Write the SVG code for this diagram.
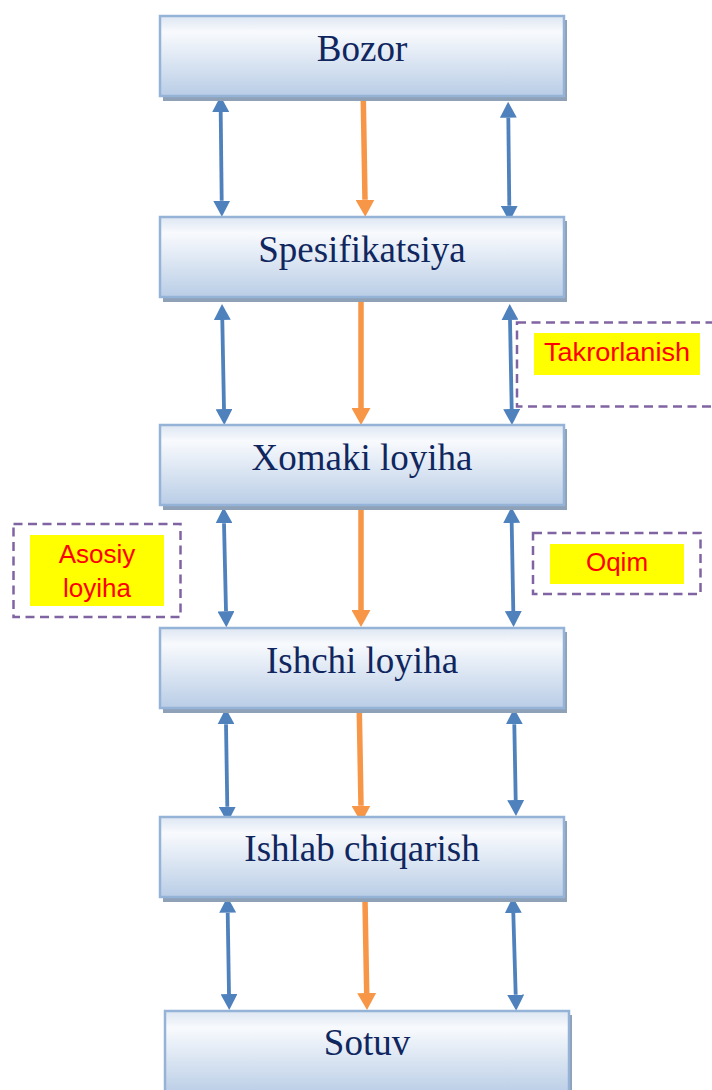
<svg xmlns="http://www.w3.org/2000/svg" width="712" height="1090" viewBox="0 0 712 1090">
<defs>
<linearGradient id="bg" x1="0" y1="0" x2="0" y2="1">
<stop offset="0" stop-color="#dde6f2"/>
<stop offset="0.2" stop-color="#f8fafd"/>
<stop offset="1" stop-color="#b9cde6"/>
</linearGradient>
<marker id="hb" markerUnits="userSpaceOnUse" markerWidth="17" markerHeight="17" refX="0" refY="8.5" orient="auto-start-reverse" viewBox="0 0 17 17">
<path d="M0,0 L16,8.5 L0,17 Z" fill="#4f81bd"/>
</marker>
<marker id="ho" markerUnits="userSpaceOnUse" markerWidth="19" markerHeight="19" refX="0" refY="9.5" orient="auto" viewBox="0 0 19 19">
<path d="M0,0 L17,9.5 L0,19 Z" fill="#f79646"/>
</marker>
</defs>
<style>
.sh{fill:#8fa1b7}
.bx{fill:url(#bg);stroke:#95b3d7;stroke-width:2.5}
.t{font-family:"Liberation Serif","Times New Roman",serif;font-size:37px;fill:#10265e;text-anchor:middle}
.b{stroke:#4f81bd;stroke-width:3.8;fill:none;marker-start:url(#hb);marker-end:url(#hb)}
.o{stroke:#f79646;stroke-width:5.5;fill:none;marker-end:url(#ho)}
.d{fill:#ffffff;stroke:#8064a2;stroke-width:2.5;stroke-dasharray:9 5.5}
.y{fill:#ffff00}
.r{font-family:"Liberation Sans",Arial,sans-serif;font-size:26px;fill:#ff0000;text-anchor:middle}
</style>
<rect width="712" height="1090" fill="#ffffff"/>

<g id="connectors">
<path class="b" d="M220.7,112 L221.7,200.7"/>
<path class="o" d="M363.3,100 L365,199.7"/>
<path class="b" d="M508.3,117.7 L509.3,205.7"/>
<path class="b" d="M222.3,320 L224,409"/>
<path class="o" d="M361,300 L361,408"/>
<path class="b" d="M510,320 L511.7,409"/>
<path class="b" d="M224,523.3 L226,611.3"/>
<path class="o" d="M361,508 L361,610"/>
<path class="b" d="M511.7,523 L513.3,611"/>
<path class="b" d="M226,724.3 L227.3,806.7"/>
<path class="o" d="M359.3,711 L361,805.7"/>
<path class="b" d="M514.3,724.3 L515.7,800"/>
<path class="b" d="M227.7,912.7 L229,994"/>
<path class="o" d="M365,900 L366.7,993"/>
<path class="b" d="M513.3,913 L515.7,994.7"/>
</g>

<g id="bozor">
<rect class="sh" x="163" y="20" width="404" height="81"/>
<rect class="bx" x="160" y="16" width="404" height="80"/>
<text class="t" x="362" y="61">Bozor</text>
</g>
<g id="spesifikatsiya">
<rect class="sh" x="163" y="221" width="404" height="81"/>
<rect class="bx" x="160" y="217" width="404" height="80"/>
<text class="t" x="362" y="262">Spesifikatsiya</text>
</g>
<g id="xomaki-loyiha">
<rect class="sh" x="163" y="429" width="404" height="81"/>
<rect class="bx" x="160" y="425" width="404" height="80"/>
<text class="t" x="362" y="470">Xomaki loyiha</text>
</g>
<g id="ishchi-loyiha">
<rect class="sh" x="163" y="632" width="404" height="81"/>
<rect class="bx" x="160" y="628" width="404" height="80"/>
<text class="t" x="362" y="672.5">Ishchi loyiha</text>
</g>
<g id="ishlab-chiqarish">
<rect class="sh" x="163" y="821" width="404" height="81"/>
<rect class="bx" x="160" y="817" width="404" height="80"/>
<text class="t" x="362" y="860.5">Ishlab chiqarish</text>
</g>
<g id="sotuv">
<rect class="sh" x="168" y="1015" width="404" height="81"/>
<rect class="bx" x="165" y="1011" width="404" height="84"/>
<text class="t" x="367" y="1055">Sotuv</text>
</g>

<g id="takrorlanish">
<rect class="d" x="517" y="322.5" width="200" height="84"/>
<rect class="y" x="534" y="333" width="166" height="42"/>
<text class="r" x="617" y="361" textLength="146" lengthAdjust="spacingAndGlyphs">Takrorlanish</text>
</g>
<g id="oqim">
<rect class="d" x="533" y="533" width="167.5" height="61"/>
<rect class="y" x="550" y="544" width="134" height="40"/>
<text class="r" x="617" y="571">Oqim</text>
</g>
<g id="asosiy-loyiha">
<rect class="d" x="13.5" y="524" width="167" height="93"/>
<rect class="y" x="30" y="535" width="134" height="71"/>
<text class="r" x="97" y="563">Asosiy</text>
<text class="r" x="97" y="597">loyiha</text>
</g>
</svg>
